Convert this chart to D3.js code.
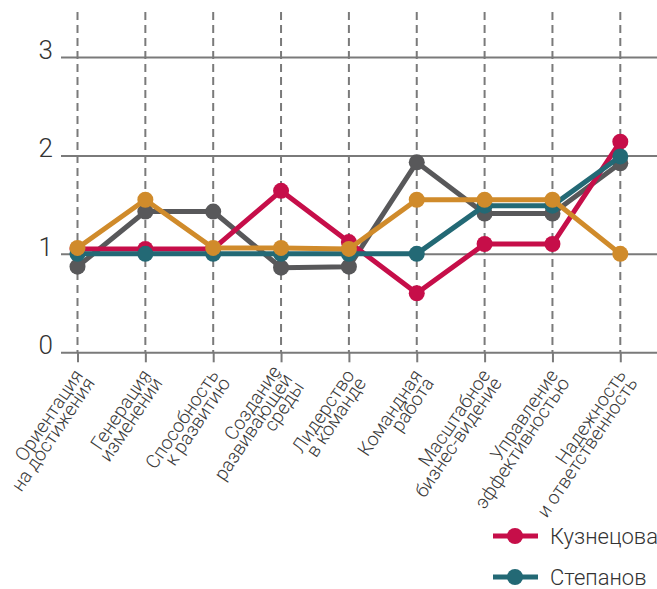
<!DOCTYPE html>
<html>
<head>
<meta charset="utf-8">
<script src="https://cdn.jsdelivr.net/npm/d3@7/dist/d3.min.js"></script>
<style>
  html, body { margin: 0; padding: 0; background: #fff; }
  svg { display: block; font-family: "Roboto", "Lato", sans-serif; font-weight: 300; }
</style>
</head>
<body>
<svg id="chart" width="657" height="589"></svg>
<script>
// Competency categories (each label split into lines)
const categories = [
  ["Ориентация", "на достижения"],
  ["Генерация", "изменений"],
  ["Способность", "к развитию"],
  ["Создание", "развивающей", "среды"],
  ["Лидерство", "в команде"],
  ["Командная", "работа"],
  ["Масштабное", "бизнес-видение"],
  ["Управление", "эффективностью"],
  ["Надежность", "и ответственность"]
];
const yTicks = [0, 1, 2, 3];

// Scores per person
const kuznetsova = [1.05, 1.05, 1.05, 1.64, 1.12, 0.6, 1.1, 1.1, 2.14];
const stepanov   = [1.0, 1.0, 1.0, 1.0, 1.0, 1.0, 1.49, 1.49, 1.99];
const seriesC    = [0.87, 1.43, 1.43, 0.86, 0.87, 1.93, 1.41, 1.41, 1.92];
const seriesD    = [1.06, 1.55, 1.06, 1.06, 1.05, 1.55, 1.55, 1.55, 1.0];

const legendNames = ["Кузнецова", "Степанов"];

const colors = {
  kuznetsova: "#c60e49",
  stepanov: "#236975",
  seriesC: "#58585a",
  seriesD: "#d08b2b"
};

// Drawing order: bottom to top
const series = [
  { key: "seriesC", values: seriesC },
  { key: "kuznetsova", values: kuznetsova },
  { key: "stepanov", values: stepanov },
  { key: "seriesD", values: seriesD }
];

const svg = d3.select("#chart");
const keys = categories.map((c, i) => i);

const x = d3.scalePoint().domain(keys).range([77.5, 620.3]);
const y = d3.scaleLinear().domain([0, 3]).range([352.3, 57]);

const gridColor = "#7a7a7a";

// Horizontal grid lines with value labels
const yAxis = d3.axisLeft(y).tickValues(yTicks).tickSize(-(657 - 61)).tickFormat(d3.format("d"));
const gy = svg.append("g").attr("transform", "translate(61,0)").call(yAxis);
gy.select(".domain").remove();
gy.selectAll(".tick line").attr("stroke", gridColor).attr("stroke-width", 2);
gy.selectAll(".tick text")
  .attr("x", -8).attr("dy", "0.05em")
  .attr("fill", "#333").attr("font-size", 26).attr("font-weight", 300)
  .style("font-family", "Roboto, Lato, sans-serif");

// Dashed vertical lines per category
svg.append("g").selectAll("line").data(keys).join("line")
  .attr("x1", d => x(d)).attr("x2", d => x(d))
  .attr("y1", 12).attr("y2", y(0))
  .attr("stroke", gridColor).attr("stroke-width", 2)
  .attr("stroke-dasharray", "8,5");

// X axis ticks
const xAxis = d3.axisBottom(x).tickSize(10).tickFormat("");
const gx = svg.append("g").attr("transform", `translate(0,${y(0)})`).call(xAxis);
gx.select(".domain").remove();
gx.selectAll(".tick line").attr("stroke", gridColor).attr("stroke-width", 2);

// Rotated multi-line category labels
const lh = 14;
const labels = svg.append("g").selectAll("text").data(keys).join("text")
  .attr("transform", d => `translate(${x(d) + 8},${y(0) + 24}) rotate(-56)`)
  .attr("text-anchor", "end")
  .attr("font-size", 19)
  .attr("fill", "#3a3a3a");
labels.each(function(d) {
  const lines = categories[d];
  const t = d3.select(this);
  lines.forEach((ln, j) => {
    t.append("tspan").attr("x", 0)
      .attr("dy", j === 0 ? (-(lines.length - 1) / 2 * lh + 5) : lh)
      .text(ln);
  });
});

// Series lines and markers
const line = d3.line().x((d, i) => x(i)).y(d => y(d));
series.forEach(s => {
  const g = svg.append("g");
  g.append("path").datum(s.values)
    .attr("d", line)
    .attr("fill", "none")
    .attr("stroke", colors[s.key])
    .attr("stroke-width", 5)
    .attr("stroke-linejoin", "round");
  g.selectAll("circle").data(s.values).join("circle")
    .attr("cx", (d, i) => x(i)).attr("cy", d => y(d))
    .attr("r", 8)
    .attr("fill", colors[s.key]);
});

// Legend
const legendKeys = ["kuznetsova", "stepanov"];
const leg = svg.append("g").selectAll("g").data(legendKeys).join("g")
  .attr("transform", (d, i) => `translate(493,${536 + i * 41})`);
leg.append("line").attr("x1", 0).attr("x2", 45).attr("y1", 0).attr("y2", 0)
  .attr("stroke", d => colors[d]).attr("stroke-width", 5);
leg.append("circle").attr("cx", 22).attr("cy", 0).attr("r", 8).attr("fill", d => colors[d]);
leg.append("text").attr("x", 57).attr("y", 0).attr("dy", "0.35em")
  .attr("font-size", 22).attr("fill", "#333")
  .text((d, i) => legendNames[i]);
</script>
</body>
</html>
